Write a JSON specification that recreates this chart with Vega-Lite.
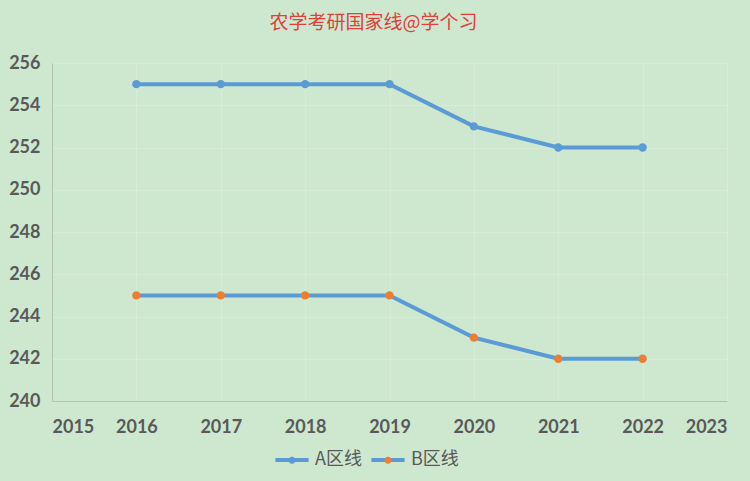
{
  "$schema": "https://vega.github.io/schema/vega-lite/v6.json",
  "width": 675,
  "height": 338,
  "autosize": {"type": "none"},
  "padding": {"left": 52, "top": 63, "right": 23, "bottom": 80},
  "background": "#cde8cf",
  "config": {
    "view": {"stroke": null},
    "axis": {
      "labelFont": "Lato",
      "labelFontWeight": "bold",
      "labelFontSize": 18,
      "labelColor": "#595959",
      "ticks": false,
      "domainColor": "#b4c2b4",
      "domainWidth": 1,
      "gridColor": "#e2f1e2",
      "gridOpacity": 0.45,
      "gridWidth": 1,
      "title": null
    }
  },
  "title": {
    "text": "农学考研国家线@学个习",
    "color": "#e0413a",
    "fontSize": 19,
    "font": "Noto Sans CJK SC",
    "fontWeight": "normal",
    "anchor": "middle",
    "offset": 21,
    "dx": -16
  },
  "data": {
    "values": [
      {"year": 2016, "series": "A区线", "score": 255},
      {"year": 2017, "series": "A区线", "score": 255},
      {"year": 2018, "series": "A区线", "score": 255},
      {"year": 2019, "series": "A区线", "score": 255},
      {"year": 2020, "series": "A区线", "score": 253},
      {"year": 2021, "series": "A区线", "score": 252},
      {"year": 2022, "series": "A区线", "score": 252},
      {"year": 2016, "series": "B区线", "score": 245},
      {"year": 2017, "series": "B区线", "score": 245},
      {"year": 2018, "series": "B区线", "score": 245},
      {"year": 2019, "series": "B区线", "score": 245},
      {"year": 2020, "series": "B区线", "score": 243},
      {"year": 2021, "series": "B区线", "score": 242},
      {"year": 2022, "series": "B区线", "score": 242}
    ]
  },
  "encoding": {
    "x": {
      "field": "year",
      "type": "quantitative",
      "scale": {"domain": [2015, 2023], "nice": false, "zero": false},
      "axis": {"values": [2015, 2016, 2017, 2018, 2019, 2020, 2021, 2022, 2023], "format": "d", "labelPadding": 17}
    },
    "y": {
      "field": "score",
      "type": "quantitative",
      "scale": {"domain": [240, 256], "nice": false, "zero": false},
      "axis": {"values": [240, 242, 244, 246, 248, 250, 252, 254, 256], "labelPadding": 12}
    }
  },
  "layer": [
    {
      "mark": {"type": "line", "strokeWidth": 4},
      "encoding": {
        "color": {
          "field": "series",
          "type": "nominal",
          "scale": {"domain": ["A区线", "B区线"], "range": ["#5b9bd5", "#5b9bd5"]},
          "legend": {
            "orient": "none",
            "direction": "horizontal",
            "legendX": 221,
            "legendY": 378,
            "title": null,
            "symbolType": "stroke",
            "symbolSize": 1100,
            "symbolStrokeWidth": 4,
            "labelExpr": "''",
            "labelFont": "Noto Sans CJK SC",
            "labelFontSize": 18,
            "labelOffset": 4,
            "columnPadding": 46
          }
        }
      }
    },
    {
      "mark": {"type": "point", "filled": true, "size": 70, "opacity": 1},
      "encoding": {
        "fill": {
          "field": "series",
          "type": "nominal",
          "scale": {"range": ["#5b9bd5", "#ed7d31"]},
          "legend": {
            "orient": "none",
            "direction": "horizontal",
            "legendX": 221,
            "legendY": 378,
            "title": null,
            "symbolType": "M-0.21,0 A0.21,0.21 0 1,0 0.21,0 A0.21,0.21 0 1,0 -0.21,0 Z",
            "symbolSize": 1100,
            "symbolStrokeWidth": 4,
            "symbolStrokeColor": "transparent",
            "symbolOpacity": 1,
            "labelFont": "Noto Sans CJK SC",
            "labelFontSize": 18,
            "labelColor": "#595959",
            "labelOffset": 4,
            "columnPadding": 7
          }
        }
      }
    }
  ]
}
